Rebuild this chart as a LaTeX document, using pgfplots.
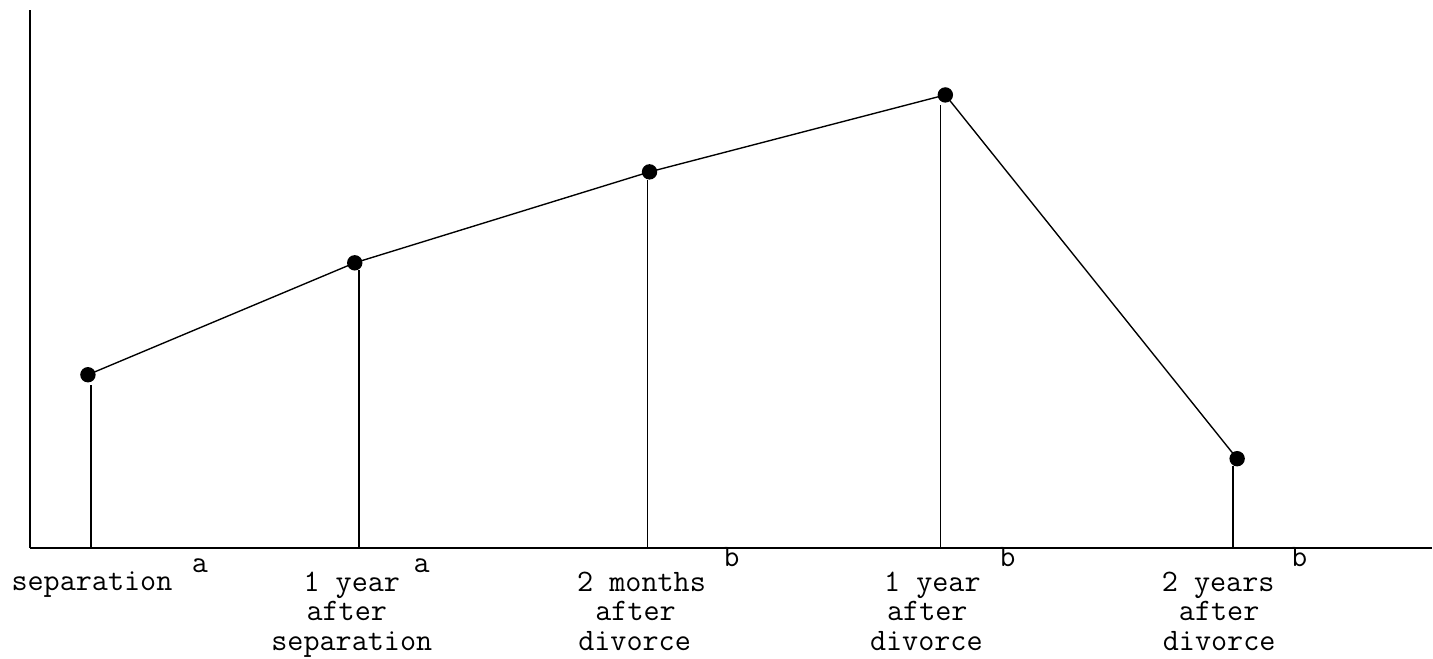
\documentclass[border=0pt]{standalone}
\usepackage{fontspec}
\usepackage{pgfplots}
\pgfplotsset{compat=1.18}
\begin{document}
\begin{tikzpicture}
\begin{axis}[
  scale only axis,
  width=561.2pt, height=215.2pt,
  xmin=30, xmax=1433, ymin=0, ymax=538,
  axis lines*=left,
  axis line style={line width=0.8pt},
  ticks=none,
  clip=false,
]
% stems
\addplot[ycomb, black, line width=0.65pt, mark=none] coordinates {
 (91,163) (359,278) (648,368) (941,443) (1234,82)};
% connected points
\addplot[black, line width=0.55pt, mark=*, mark size=2.8pt] coordinates {
 (88,173) (355,285) (650,376) (946,453) (1238,89)};
\path (axis cs:0,-111) rectangle (axis cs:1433,548);
\tikzset{lab/.style={anchor=base, font=\ttfamily\fontsize{12.5}{13}\selectfont, inner sep=0pt}}
\node[lab] at (axis cs:92,-43) {separation};
\node[lab] at (axis cs:200,-25) {a};
\node[lab] at (axis cs:352,-44) {1 year};
\node[lab] at (axis cs:347,-73) {after};
\node[lab] at (axis cs:352,-103) {separation};
\node[lab] at (axis cs:422,-25) {a};
\node[lab] at (axis cs:642,-44) {2 months};
\node[lab] at (axis cs:636,-73) {after};
\node[lab] at (axis cs:635,-103) {divorce};
\node[lab] at (axis cs:732,-19) {b};
\node[lab] at (axis cs:933,-44) {1 year};
\node[lab] at (axis cs:928,-73) {after};
\node[lab] at (axis cs:927,-103) {divorce};
\node[lab] at (axis cs:1008,-19) {b};
\node[lab] at (axis cs:1219,-44) {2 years};
\node[lab] at (axis cs:1220,-73) {after};
\node[lab] at (axis cs:1220,-103) {divorce};
\node[lab] at (axis cs:1300,-19) {b};
\end{axis}
\end{tikzpicture}
\end{document}
